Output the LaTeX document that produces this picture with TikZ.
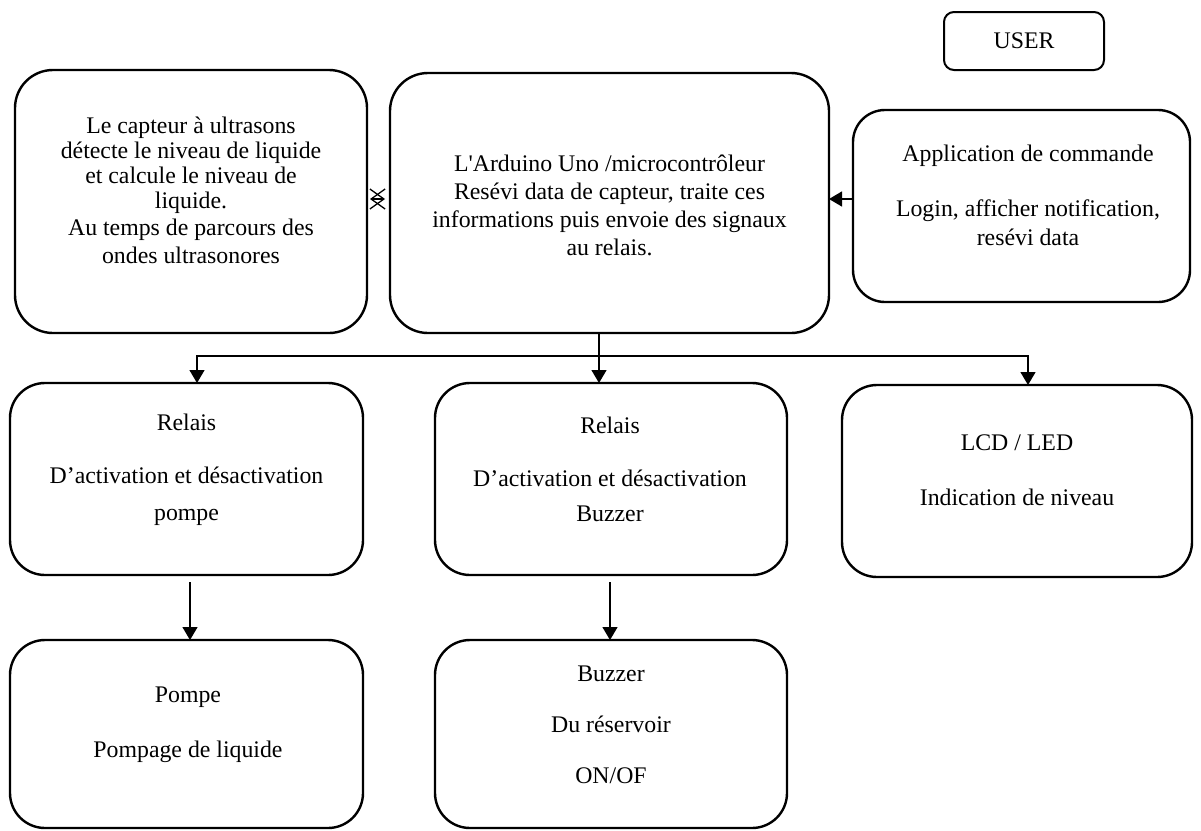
\documentclass[tikz,border=0pt]{standalone}
\usepackage{fontspec}
\setmainfont{Liberation Serif}
\usetikzlibrary{arrows.meta,calc}
\newcommand\boxtextfont{\fontsize{23.8}{25}\selectfont\lineskiplimit=-20pt\relax}
\begin{document}
\begin{tikzpicture}[x=1pt,y=-1pt,
  box/.style={draw=black,line width=2.4pt,rounded corners=38pt,inner sep=0pt,outer sep=0pt},
  smallbox/.style={box,rounded corners=10pt,line width=2pt},
  txt/.style={align=center,inner sep=0pt,font=\boxtextfont},
  arr/.style={line width=1.3pt,-{Triangle[length=13pt,width=15pt]}},
  conn/.style={line width=1.3pt},
  bidir/.style={line width=1.3pt,{Straight Barb[length=14pt,width=20pt]}-{Straight Barb[length=14pt,width=20pt]}}]
\useasboundingbox (0,0) rectangle (1201,830);
\fill[white] (0,0) rectangle (1201,830);
% boxes
\node[box,minimum width=352pt,minimum height=263pt] (sensor) at (191,201.5) {};
\node[box,minimum width=439pt,minimum height=260pt] (arduino) at (609.5,203) {};
\node[box,rounded corners=32pt,minimum width=337pt,minimum height=192pt] (app) at (1021.5,206) {};
\node[smallbox,minimum width=160pt,minimum height=58pt] (user) at (1024,41) {};
\node[box,rounded corners=35pt,minimum width=353pt,minimum height=192pt] (relais1) at (186.5,479) {};
\node[box,rounded corners=35pt,minimum width=352pt,minimum height=192pt] (relais2) at (611,479) {};
\node[box,rounded corners=35pt,minimum width=350pt,minimum height=192pt] (lcd) at (1017,481) {};
\node[box,rounded corners=35pt,minimum width=353pt,minimum height=188pt] (pompe) at (186.5,734) {};
\node[box,rounded corners=35pt,minimum width=352pt,minimum height=188pt] (buzzer) at (611,734) {};
% texts
\node[txt] (userT) at (1024,41) {USER};
\node[txt] (sensorT) at (191,190) {Le capteur à ultrasons\\ détecte le niveau de liquide\\ et calcule le niveau de\\ liquide.\\[2pt] Au temps de parcours des\\[3pt] ondes ultrasonores};
\node[txt] (arduinoT) at (609.5,205) {L\textquotesingle Arduino Uno /microcontrôleur\\[3pt] Resévi data de capteur, traite ces\\[3pt] informations puis envoie des signaux\\[3pt] au relais.};
\node[txt] (appT) at (1028,195) {Application de commande\\[30pt] Login, afficher notification,\\[4pt] resévi data};
\node[txt] (relais1T) at (186.5,470) {Relais\\[28pt] D’activation et désactivation\\[12pt] pompe};
\node[txt] (relais2T) at (610,469) {Relais\\[28pt] D’activation et désactivation\\[10pt] Buzzer};
\node[txt] (lcdT) at (1017,470) {LCD / LED\\[30pt] Indication de niveau};
\node[txt] (pompeT) at (188,724.5) {Pompe\\[30pt] Pompage de liquide};
\node[txt] (buzzerT) at (611,725) {Buzzer\\[26pt] Du réservoir\\[26pt] ON/OF};
% connectors
\coordinate (sa) at (0,199);
\coordinate (bus) at (599,356);
\draw[bidir] ([xshift=3pt]sensor.east |- sa) -- ([xshift=-5pt]arduino.west |- sa);
\draw[arr] (app.west |- sa) -- (arduino.east |- sa);
\draw[conn] (arduino.south -| bus) -- (bus);
\draw[arr] (bus) -- (relais2.north -| bus);
\draw[arr] (bus) -| ([xshift=10.5pt]relais1.north);
\draw[arr] (bus) -| ([xshift=11pt]lcd.north);
\draw[arr] ([xshift=3.5pt,yshift=-7pt]relais1.south) -- ([xshift=3.5pt]pompe.north);
\draw[arr] ([xshift=-1pt,yshift=-7pt]relais2.south) -- ([xshift=-1pt]buzzer.north);
\end{tikzpicture}
\end{document}
